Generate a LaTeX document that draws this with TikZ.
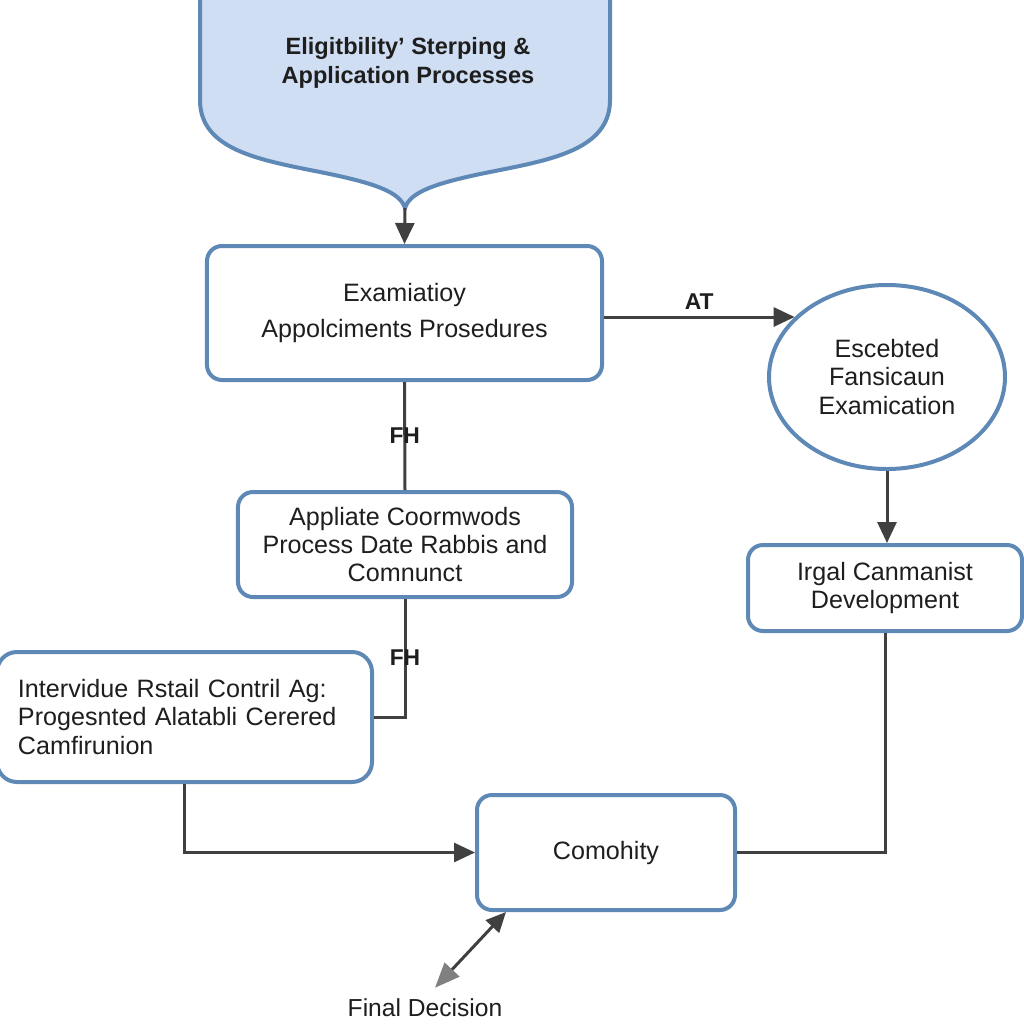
\documentclass[tikz,border=0pt]{standalone}
\usepackage{fontspec}
\setmainfont{Liberation Sans}
\usetikzlibrary{shapes.geometric,arrows.meta}
\definecolor{boxblue}{HTML}{5E88B6}
\definecolor{shieldfill}{HTML}{CFDEF3}
\definecolor{lnc}{HTML}{404040}
\definecolor{txt}{HTML}{1E1E1E}

\begin{document}
\begin{tikzpicture}[x=0.2mm, y=-0.2mm,
	box/.style={draw=boxblue, line width=0.8mm, rounded corners=3mm, fill=white, align=center, text=txt, font=\fontsize{14.3}{16}\selectfont},
	link/.style={lnc, line width=0.6mm},
	arr/.style={link, -{Triangle[length=4.2mm, width=3.8mm]}},
	lbl/.style={text=txt, font=\bfseries\fontsize{13}{15}\selectfont}]
	%\draw[help lines] (0,0) grid[step=100] (1024,1024);
	\clip (0,0) rectangle (1024,1024);
	\fill [white] (0,0) rectangle (1024,1024);
	
	% top shield
	\draw [draw=boxblue, fill=shieldfill, line width=0.8mm] (200,-20) -- (200,100)
		.. controls (200,150) and (260,160) .. (320,172)
		.. controls (375,183) and (400,192) .. (405,208)
		.. controls (410,192) and (435,183) .. (490,172)
		.. controls (550,160) and (610,150) .. (610,100) -- (610,-20);
	\node [lbl, align=center, font=\bfseries\fontsize{13.4}{16.5}\selectfont] (elig) at (408,63) {Eligitbility' Sterping \&\\Application Processes};
	\coordinate (tip) at (405,208);
	
	\node [box, minimum width=79mm, minimum height=26.8mm, font=\fontsize{14.3}{20}\selectfont] (exam) at (404.5,313) {Examiatioy\\Appolciments Prosedures};
	\node [box, minimum width=66.8mm, minimum height=21mm] (appl) at (405,544.5) {Appliate Coormwods\\Process Date Rabbis and\\Comnunct};
	\node [box, rounded corners=4mm, minimum width=75mm, minimum height=26mm, text width=66.6mm, align=left] (inter) at (184.5,717) {Intervidue Rstail Contril Ag:\\Progesnted Alatabli Cerered\\Camfirunion};
	\node [box, ellipse, sharp corners, minimum width=47.2mm, minimum height=36.8mm, inner sep=0] (escb) at (887,377) {Escebted\\Fansicaun\\Examication};
	\node [box, minimum width=54.8mm, minimum height=17.2mm] (irgal) at (885,588) {Irgal Canmanist\\Development};
	\node [box, minimum width=51.6mm, minimum height=23mm] (como) at (606,852.5) {Comohity};
	\node [text=txt, font=\fontsize{14}{16}\selectfont] (fin) at (425,1008) {Final Decision};
	
	\draw [arr] (tip) -- (exam.north);
	\draw [arr] (escb.147 -| exam.east) -- node [lbl, above] (atlbl) {AT} (escb.147);
	\draw [link] (exam.south) -- node [lbl] (fh1) {FH} (appl.north);
	\draw [link] (appl.south) |- node [lbl, pos=0.25] (fh2) {FH} (inter.east);
	\draw [arr] (inter.south) |- (como.west);
	\draw [arr] (escb.south) -- (escb.south |- irgal.north);
	\draw [link] (irgal.south) |- (como.east);
	
	\coordinate (fintip) at ([xshift=2mm, yshift=1mm]fin.north);
	\draw [link, {Triangle[length=5mm, width=4mm, color=gray]}-{Triangle[length=4mm, width=3.6mm]}] (fintip) -- ([xshift=6.2mm]como.south west);
	
\end{tikzpicture}
\end{document}
